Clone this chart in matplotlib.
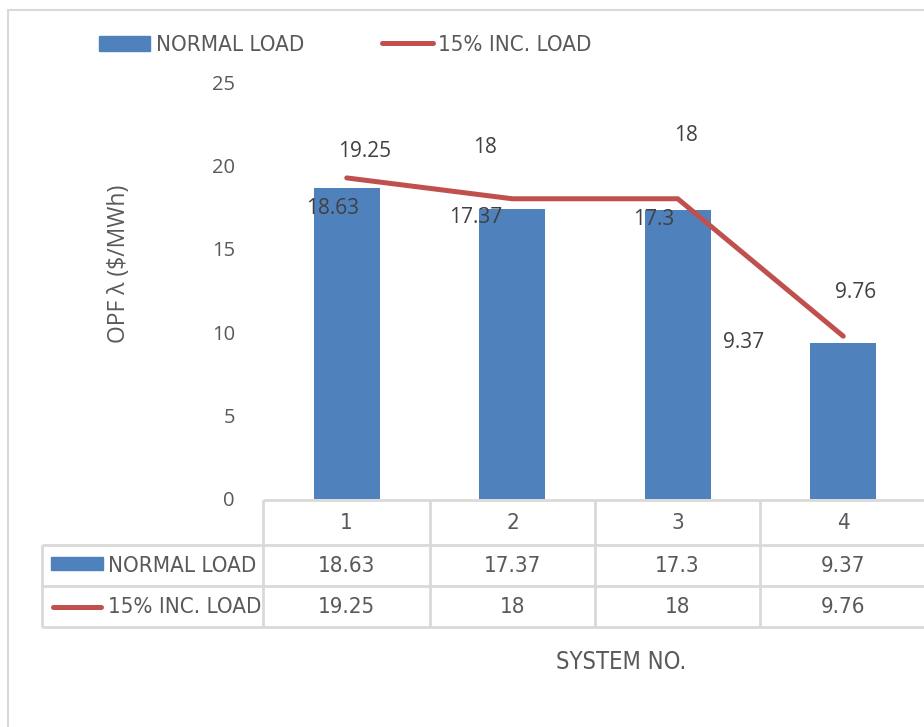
import matplotlib.pyplot as plt
from matplotlib.lines import Line2D
from matplotlib.patches import Rectangle

systems = ['1', '2', '3', '4']
normal_load = [18.63, 17.37, 17.3, 9.37]
inc_load = [19.25, 18, 18, 9.76]
series_names = ['NORMAL LOAD', '15% INC. LOAD']

BLUE = '#4F81BD'
RED = '#C0504D'
GRID = '#D9D9D9'
TXT = '#595959'
OPEN = ['Open Sans', 'DejaVu Sans']
NARROW = dict(family='DejaVu Sans', stretch='condensed')

W, H = 924, 727
fig = plt.figure(figsize=(W / 100, H / 100), dpi=100)


def fx(px):
    return px / W


def fy(py):
    return 1 - py / H


ax = fig.add_axes([fx(264), fy(499), fx(926) - fx(264), fy(82) - fy(499)])
x = list(range(len(systems)))

ax.bar(x, normal_load, width=0.4, color=BLUE, zorder=2)
ax.plot(x, inc_load, color=RED, lw=3.6, solid_capstyle='round', zorder=3)

# data labels, offsets in pixels from each mark
bar_offsets = [(-14, -20), (-37, -8), (-24, -9), (-100, 0)]
line_offsets = [(18, 26), (-27, 51), (8, 63), (12, 44)]
for xi, v, (dx, dy) in zip(x, normal_load, bar_offsets):
    ax.annotate(f'{v:g}', (xi, v), xytext=(dx, dy), textcoords='offset pixels',
                ha='center', va='center', fontsize=15, color='#404040',
                family=OPEN, zorder=4)
for xi, v, (dx, dy) in zip(x, inc_load, line_offsets):
    ax.annotate(f'{v:g}', (xi, v), xytext=(dx, dy), textcoords='offset pixels',
                ha='center', va='center', fontsize=15, color='#404040',
                family=OPEN, zorder=4)

ax.set_xlim(-0.5, 3.5)
ax.set_ylim(0, 25)
ax.set_yticks([0, 5, 10, 15, 20, 25])
ax.set_xticks([])
ax.tick_params(axis='y', length=0, pad=21, labelsize=14.5, labelcolor=TXT)
for lbl in ax.get_yticklabels():
    lbl.set_family(OPEN)
for s in ax.spines.values():
    s.set_visible(False)

fig.text(fx(119), fy(264), 'OPF λ ($/MWh)', rotation=90, ha='center', va='center',
         fontsize=16.5, color=TXT, family=OPEN)

# data table under the plot
col_edges = [263, 430, 595, 760, 926]
row_edges = [500, 545, 586, 627]
lk = dict(color=GRID, lw=2, solid_capstyle='butt')
fig.add_artist(Line2D([fx(263), fx(926)], [fy(500)] * 2, **lk))
for ry in row_edges[1:]:
    fig.add_artist(Line2D([fx(42), fx(926)], [fy(ry)] * 2, **lk))
for cx in col_edges:
    fig.add_artist(Line2D([fx(cx)] * 2, [fy(500), fy(627)], **lk))
fig.add_artist(Line2D([fx(42)] * 2, [fy(545), fy(627)], **lk))

row_mid = [523, 566, 607]
for i, name in enumerate(systems):
    cx = (col_edges[i] + col_edges[i + 1]) / 2
    fig.text(fx(cx), fy(row_mid[0]), name, ha='center', va='center',
             fontsize=16, color=TXT, **NARROW)
    fig.text(fx(cx), fy(row_mid[1]), f'{normal_load[i]:g}', ha='center', va='center',
             fontsize=16, color=TXT, **NARROW)
    fig.text(fx(cx), fy(row_mid[2]), f'{inc_load[i]:g}', ha='center', va='center',
             fontsize=16, color=TXT, **NARROW)

fig.add_artist(Rectangle((fx(51), fy(570)), fx(103) - fx(51), fy(557) - fy(570),
                         color=BLUE))
fig.add_artist(Line2D([fx(53), fx(101)], [fy(607)] * 2, color=RED, lw=3.6,
                      solid_capstyle='round'))
fig.text(fx(108), fy(row_mid[1]), series_names[0], ha='left', va='center',
         fontsize=16, color=TXT, **NARROW)
fig.text(fx(108), fy(row_mid[2]), series_names[1], ha='left', va='center',
         fontsize=16, color=TXT, **NARROW)

fig.text(fx(621), fy(662), 'SYSTEM NO.', ha='center', va='center',
         fontsize=17, color=TXT, **NARROW)

# legend
handles = [Rectangle((0, 0), 1, 1, color=BLUE),
           Line2D([], [], color=RED, lw=3.6, solid_capstyle='round')]
fig.legend(handles, series_names, loc='center left', bbox_to_anchor=(fx(79), fy(45)),
           ncol=2, frameon=False, handlelength=2.3, handleheight=0.65,
           handletextpad=0.25, columnspacing=3.5,
           prop=dict(size=16, **NARROW), labelcolor=TXT)

# chart border
fig.add_artist(Rectangle((fx(8), fy(740)), fx(940) - fx(8), fy(10) - fy(740),
                         fill=False, edgecolor=GRID, lw=1.5))

fig.savefig('out.png', dpi=100)
